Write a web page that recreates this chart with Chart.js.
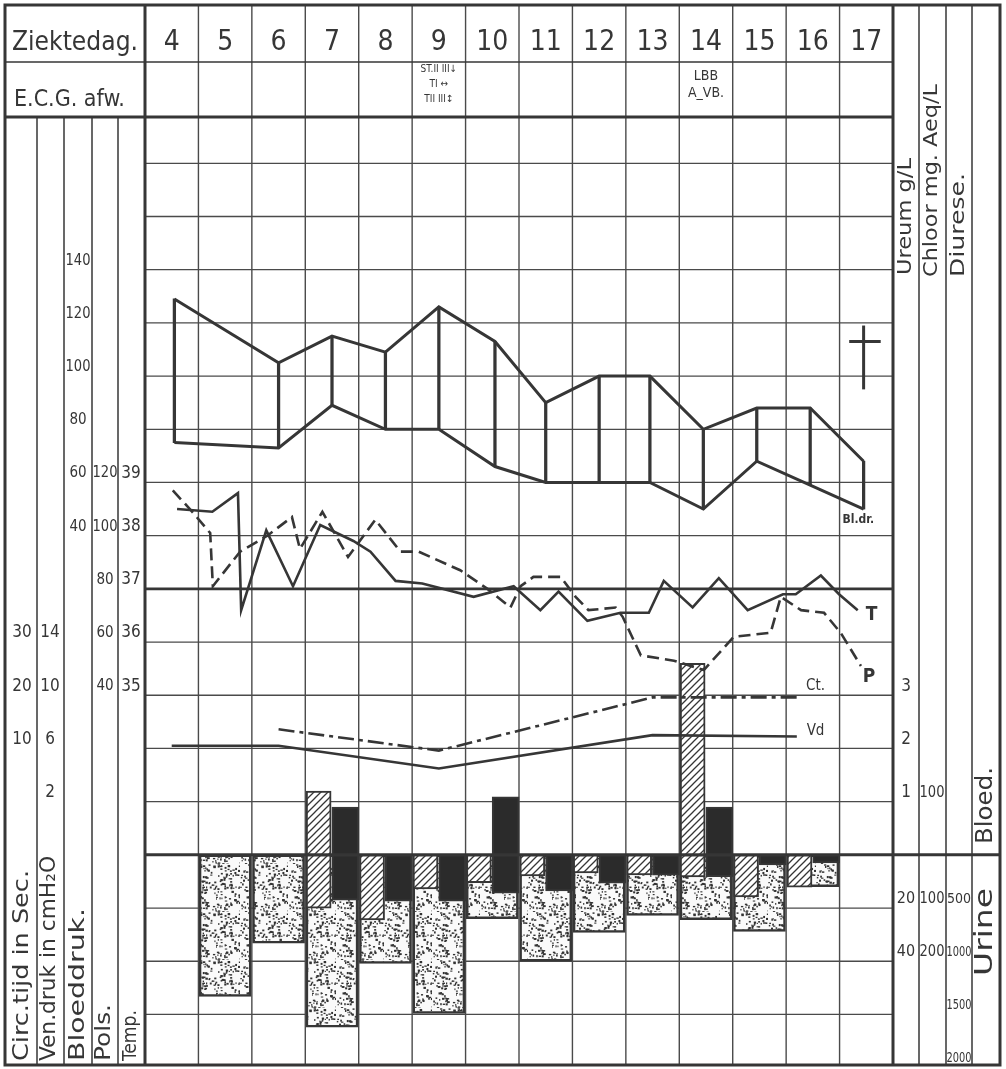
<!DOCTYPE html>
<html>
<head>
<meta charset="utf-8">
<script src="https://cdn.jsdelivr.net/npm/chart.js@4/dist/chart.umd.min.js"></script>
<style>
  html, body { margin: 0; background: #fff; }
  canvas { display: block; }
</style>
</head>
<body>
<canvas id="chart" width="1006" height="1069"></canvas>
<script>
// ===== data =====
const days = [4, 5, 6, 7, 8, 9, 10, 11, 12, 13, 14, 15, 16, 17]

// blood pressure (mmHg)
const bpDays = [4.05, 6, 7, 8, 9, 10.05, 11, 12, 12.95, 13.95, 14.95, 15.95, 16.95]
const bpSys = [129, 105, 115, 109, 126, 113, 90, 100, 100, 80, 88, 88, 68]
const bpDia = [75, 73, 89, 80, 80, 66, 60, 60, 60, 50, 68, 59, 50]

// temperature (solid) and pulse (dashed)
const tempTimes = [4.1, 4.76, 5.24, 5.3, 5.77, 6.27, 6.78, 7.4, 7.72, 8.19, 8.69, 9.65, 10.4, 10.9, 11.24, 11.78, 12.4, 12.93, 13.21, 13.75, 14.24, 14.78, 15.44, 15.68, 16.15, 16.49, 16.84]
const tempValues = [38.5, 38.45, 38.8, 36.6, 38.1, 37.05, 38.2, 37.9, 37.7, 37.15, 37.1, 36.85, 37.05, 36.6, 36.95, 36.4, 36.55, 36.55, 37.15, 36.65, 37.2, 36.6, 36.9, 36.9, 37.25, 36.9, 36.6]
const pulseTimes = [4.02, 4.34, 4.72, 4.77, 5.28, 5.79, 6.25, 6.4, 6.82, 7.3, 7.81, 8.28, 8.62, 9.4, 9.91, 10.34, 10.53, 10.77, 11.28, 11.56, 11.8, 12.31, 12.44, 12.78, 13.4, 13.96, 14.52, 15.21, 15.4, 15.78, 16.21, 16.52, 16.9]
const pulseValues = [117, 110, 101, 81, 94, 100, 107, 95, 109, 92, 106, 94, 94, 87, 80, 73, 81, 84.5, 84.5, 77, 72, 73, 69.5, 55, 53, 49.5, 62, 63.5, 77, 72, 71, 63.5, 51]

// circulation time (sec) and venous pressure (cm H2O)
const ctDays = [6, 9, 13, 15.75]
const ctValues = [13.6, 9.6, 19.6, 19.6]
const vdDays = [4, 6, 9, 13, 15.7]
const vdValues = [6.2, 6.2, 4.5, 7.0, 6.9]

// blood: ureum g/L (hatched), chloor mg aeq/L (black)
const bloodDays = [7, 10, 14]
const bloodUreum = [1.2, null, 3.6]
const bloodChloor = [90, 109, 90]

// urine: ureum g/L (hatched), chloor (black), diurese ml (dotted)
const urineDays = [5, 6, 7, 8, 9, 10, 11, 12, 13, 14, 15, 16]
const urineUreum = [null, null, 20, 24.5, 12.8, 10.5, 7.9, 6.8, 7.5, 8.3, 15.8, 12.1]
const urineChloor = [null, null, 85, 87, 87, 72, 68, 53, 38, 41, 19, 15]
const diurese = [1330, 830, 1620, 1020, 1490, 600, 1000, 730, 570, 610, 720, 300]

// tick labels of the side columns
const ctTicks = [30, 20, 10]
const vdTicks = [14, 10, 6, 2]
const bpTicks = [140, 120, 100, 80, 60, 40]
const pulseTicks = [120, 100, 80, 60, 40]
const tempTicks = [39, 38, 37, 36, 35]
const bUreumTicks = [3, 2, 1]
const bChloorTicks = [100]
const uUreumTicks = [20, 40]
const uChloorTicks = [100, 200]
const diureseTicks = [500, 1000, 1500, 2000]

const ecgNotes = { 9: ['ST.II III↓', 'TI ↔', 'TII III↕'], 14: ['LBB', 'A_VB.'] }

// ===== look =====
const INK = '#363636'
const F = '"DejaVu Sans Condensed", "DejaVu Sans", sans-serif'
const ROW_TOP = 13.87
const ROW_BOTTOM = -3.95

const canvas = document.getElementById('chart')
const c2d = canvas.getContext('2d')

function hatch() {
    const c = document.createElement('canvas')
    c.width = c.height = 7
    const g = c.getContext('2d')
    g.fillStyle = '#fff'
    g.fillRect(0, 0, 7, 7)
    g.strokeStyle = INK
    g.lineWidth = 1.3
    g.beginPath()
    g.moveTo(-1, 8); g.lineTo(8, -1)
    g.moveTo(-1, 1); g.lineTo(1, -1)
    g.moveTo(6, 8); g.lineTo(8, 6)
    g.stroke()
    return c2d.createPattern(c, 'repeat')
}

function stipple() {
    const c = document.createElement('canvas')
    c.width = c.height = 48
    const g = c.getContext('2d')
    g.fillStyle = '#fafafa'
    g.fillRect(0, 0, 48, 48)
    g.fillStyle = '#333'
    let s = 12345
    const next = () => (s = (s * 1103515245 + 12345) % 2147483648) / 2147483648
    for (let i = 0; i < 190; i++) {
        g.fillRect(next() * 48, next() * 48, 1 + next() * 1.6, 1 + next() * 1.2)
    }
    return c2d.createPattern(c, 'repeat')
}

const HATCH = hatch()
const DOTS = stipple()

// every measurement scale shares the same row grid (one row = one grid square)
function rowAxis(atRow0, perRow, reverse) {
    if (reverse) {
        return { axis: 'y', display: false, reverse: true, min: -ROW_TOP * perRow, max: -ROW_BOTTOM * perRow }
    }
    return { axis: 'y', display: false, min: atRow0 + ROW_BOTTOM * perRow, max: atRow0 + ROW_TOP * perRow }
}

const pts = (xs, ys, dx = 0) => xs.map((x, i) => ({ x: x + dx, y: ys[i] })).filter(p => p.y != null)

const lineStyle = { type: 'line', borderColor: INK, borderWidth: 2.6, pointRadius: 0, tension: 0, fill: false, order: 1 }
const barStyle = { type: 'bar', grouped: false, borderColor: INK, borderWidth: 2, borderSkipped: false }

const datasets = [
    { ...barStyle, yAxisID: 'uDiurese', data: pts(urineDays, diurese), backgroundColor: DOTS, barThickness: 52, borderWidth: 2.5, order: 10 },
    { ...barStyle, yAxisID: 'uUreum', data: pts(urineDays, urineUreum, -0.25), backgroundColor: HATCH, barThickness: 25, order: 5 },
    { ...barStyle, yAxisID: 'uChloor', data: pts(urineDays, urineChloor, 0.25), backgroundColor: '#2b2b2b', barThickness: 27, order: 5 },
    { ...barStyle, yAxisID: 'bUreum', data: pts(bloodDays, bloodUreum, -0.25), backgroundColor: HATCH, barThickness: 25, order: 5 },
    { ...barStyle, yAxisID: 'bChloor', data: pts(bloodDays, bloodChloor, 0.25), backgroundColor: '#2b2b2b', barThickness: 27, order: 5 },
    // blood pressure band: upper and lower line plus the vertical strokes
    { ...lineStyle, yAxisID: 'bp', data: pts(bpDays, bpSys), borderWidth: 3 },
    { ...lineStyle, yAxisID: 'bp', data: pts(bpDays, bpDia), borderWidth: 3 },
    { ...barStyle, yAxisID: 'bp', data: bpDays.map((d, i) => ({ x: d, y: [bpDia[i], bpSys[i]] })), backgroundColor: INK, borderWidth: 0, barThickness: 2.6, order: 2 },
    { ...lineStyle, yAxisID: 'temp', data: pts(tempTimes, tempValues) },
    { ...lineStyle, yAxisID: 'pulse', data: pts(pulseTimes, pulseValues), borderDash: [12, 6] },
    { ...lineStyle, yAxisID: 'ct', data: pts(ctDays, ctValues), borderDash: [16, 5, 4, 5] },
    { ...lineStyle, yAxisID: 'vd', data: pts(vdDays, vdValues) }
]

const seriesLabels = [
    { text: 'Bl.dr.', x: 16.85, axis: 'bp', v: 46, font: 'bold 12px ' + F },
    { text: 'T', x: 17.1, axis: 'temp', v: 36.5, font: 'bold 19px ' + F },
    { text: 'P', x: 17.05, axis: 'pulse', v: 47, font: 'bold 19px ' + F },
    { text: 'Ct.', x: 16.05, axis: 'ct', v: 21.7, font: '15px ' + F },
    { text: 'Vd', x: 16.05, axis: 'vd', v: 7.3, font: '15px ' + F }
]

// ===== frame geometry (pixels) =====
const L = 5, R = 1000, T = 5, B = 1065
const HEAD1 = 62, HEAD2 = 117
const leftCols = [37, 64, 92, 118]
const rightCols = [919, 946, 972]

function line(ctx, x1, y1, x2, y2, w) {
    ctx.lineWidth = w
    ctx.beginPath()
    ctx.moveTo(x1, y1)
    ctx.lineTo(x2, y2)
    ctx.stroke()
}

// upright column title, read from bottom to top, stretched to fill [yTop, yBottom]
function vtext(ctx, text, x, yBottom, yTop, size) {
    ctx.save()
    ctx.font = size + 'px ' + F
    const w = ctx.measureText(text).width
    ctx.translate(x, yBottom)
    ctx.rotate(-Math.PI / 2)
    ctx.scale((yBottom - yTop) / w, 1)
    ctx.textAlign = 'left'
    ctx.textBaseline = 'middle'
    ctx.fillText(text, 0, 0)
    ctx.restore()
}

function sideTicks(ctx, scale, ticks, cx, size) {
    ctx.font = size + 'px ' + F
    ctx.textAlign = 'center'
    ctx.textBaseline = 'middle'
    ticks.forEach(t => {
        ctx.fillText(String(t), cx, scale.getPixelForValue(t) - 9, 25)
    })
}

const chartFrame = {
    id: 'chartFrame',
    beforeDatasetsDraw(chart) {
        const { ctx, chartArea: a, scales } = chart
        ctx.save()
        ctx.strokeStyle = '#4a4a4a'
        // day columns run through the header too
        days.slice(0, -1).forEach(d => {
            const x = scales.x.getPixelForValue(d + 0.5)
            line(ctx, x, T, x, B, 1.4)
        })
        for (let r = Math.ceil(ROW_BOTTOM); r <= Math.floor(ROW_TOP); r++) {
            if (r === 0 || r === 5) continue
            const y = scales.row.getPixelForValue(r)
            line(ctx, a.left, y, a.right, y, 1.3)
        }
        ctx.strokeStyle = INK
        const y37 = scales.row.getPixelForValue(5)
        line(ctx, a.left, y37, a.right, y37, 2.6)
        const y0 = scales.row.getPixelForValue(0)
        line(ctx, a.left, y0, R, y0, 3)
        ctx.restore()
    },
    afterDatasetsDraw(chart) {
        const { ctx, chartArea: a, scales } = chart
        ctx.save()
        ctx.strokeStyle = INK
        ctx.fillStyle = INK

        // frame and column lines
        line(ctx, L, HEAD1, a.right, HEAD1, 1.6)
        line(ctx, L, HEAD2, a.right, HEAD2, 3)
        leftCols.forEach(x => line(ctx, x, HEAD2, x, B, 1.5))
        rightCols.forEach(x => line(ctx, x, T, x, B, 1.5))
        line(ctx, a.left, T, a.left, B, 3)
        line(ctx, a.right, T, a.right, B, 3)
        ctx.lineWidth = 3
        ctx.strokeRect(L, T, R - L, B - T)

        // header
        ctx.textBaseline = 'alphabetic'
        ctx.textAlign = 'left'
        ctx.font = '27px ' + F
        ctx.fillText('Ziektedag.', 12, 50, 126)
        ctx.font = '23px ' + F
        ctx.fillText('E.C.G. afw.', 14, 106, 112)
        ctx.textAlign = 'center'
        ctx.font = '28px ' + F
        days.forEach(d => ctx.fillText(String(d), scales.x.getPixelForValue(d), 50))
        Object.keys(ecgNotes).forEach(d => {
            const notes = ecgNotes[d]
            const x = scales.x.getPixelForValue(+d)
            const small = notes.length > 2
            ctx.font = (small ? 10 : 14) + 'px ' + F
            notes.forEach((n, i) => ctx.fillText(n, x, (small ? 72 : 80) + i * (small ? 15 : 17), 48))
        })

        // column titles
        vtext(ctx, 'Circ.tijd in Sec.', 22, 1061, 870, 22)
        vtext(ctx, 'Ven.druk in cmH₂O', 50, 1061, 856, 21)
        vtext(ctx, 'Bloeddruk.', 78, 1061, 908, 22)
        vtext(ctx, 'Pols.', 105, 1061, 1004, 21)
        vtext(ctx, 'Temp.', 131, 1061, 1010, 20)
        vtext(ctx, 'Ureum g/L', 906, 275, 158, 20)
        vtext(ctx, 'Chloor mg. Aeq/L', 932, 277, 84, 20)
        vtext(ctx, 'Diurese.', 959, 277, 173, 20)
        vtext(ctx, 'Bloed.', 986, 844, 767, 23)
        vtext(ctx, 'Urine', 986, 976, 888, 24)

        // side tick labels
        sideTicks(ctx, scales.ct, ctTicks, 22, 17)
        sideTicks(ctx, scales.vd, vdTicks, 50, 17)
        sideTicks(ctx, scales.bp, bpTicks, 78, 15)
        sideTicks(ctx, scales.pulse, pulseTicks, 105, 15)
        sideTicks(ctx, scales.temp, tempTicks, 131, 17)
        sideTicks(ctx, scales.bUreum, bUreumTicks, 906, 17)
        sideTicks(ctx, scales.bChloor, bChloorTicks, 932, 15)
        sideTicks(ctx, scales.uUreum, uUreumTicks, 906, 16)
        sideTicks(ctx, scales.uChloor, uChloorTicks, 932, 15)
        sideTicks(ctx, scales.uDiurese, diureseTicks, 959, 14)

        // curve labels
        ctx.textAlign = 'center'
        ctx.textBaseline = 'middle'
        seriesLabels.forEach(s => {
            ctx.font = s.font
            ctx.fillText(s.text, scales.x.getPixelForValue(s.x), scales[s.axis].getPixelForValue(s.v))
        })

        // cross after the last day
        const cx = scales.x.getPixelForValue(16.95)
        const bp = scales.bp
        line(ctx, cx, bp.getPixelForValue(119), cx, bp.getPixelForValue(95), 3)
        line(ctx, scales.x.getPixelForValue(16.68), bp.getPixelForValue(113), scales.x.getPixelForValue(17.27), bp.getPixelForValue(113), 3)
        ctx.restore()
    }
}

new Chart(canvas, {
    data: { datasets },
    options: {
        responsive: false,
        animation: false,
        layout: { padding: { left: 145, right: 1006 - 893, top: HEAD2, bottom: 1069 - B } },
        plugins: { legend: { display: false }, tooltip: { enabled: false } },
        scales: {
            x: { type: 'linear', display: false, offset: false, min: 3.5, max: 17.5 },
            row: rowAxis(0, 1),
            bp: rowAxis(-80, 20),
            temp: rowAxis(32, 1),
            pulse: rowAxis(-20, 20),
            ct: rowAxis(-10, 10),
            vd: rowAxis(-2, 4),
            bUreum: rowAxis(0, 1),
            bChloor: rowAxis(0, 100),
            uUreum: rowAxis(0, 20, true),
            uChloor: rowAxis(0, 100, true),
            uDiurese: rowAxis(0, 500, true)
        }
    },
    plugins: [chartFrame]
})
</script>
</body>
</html>
